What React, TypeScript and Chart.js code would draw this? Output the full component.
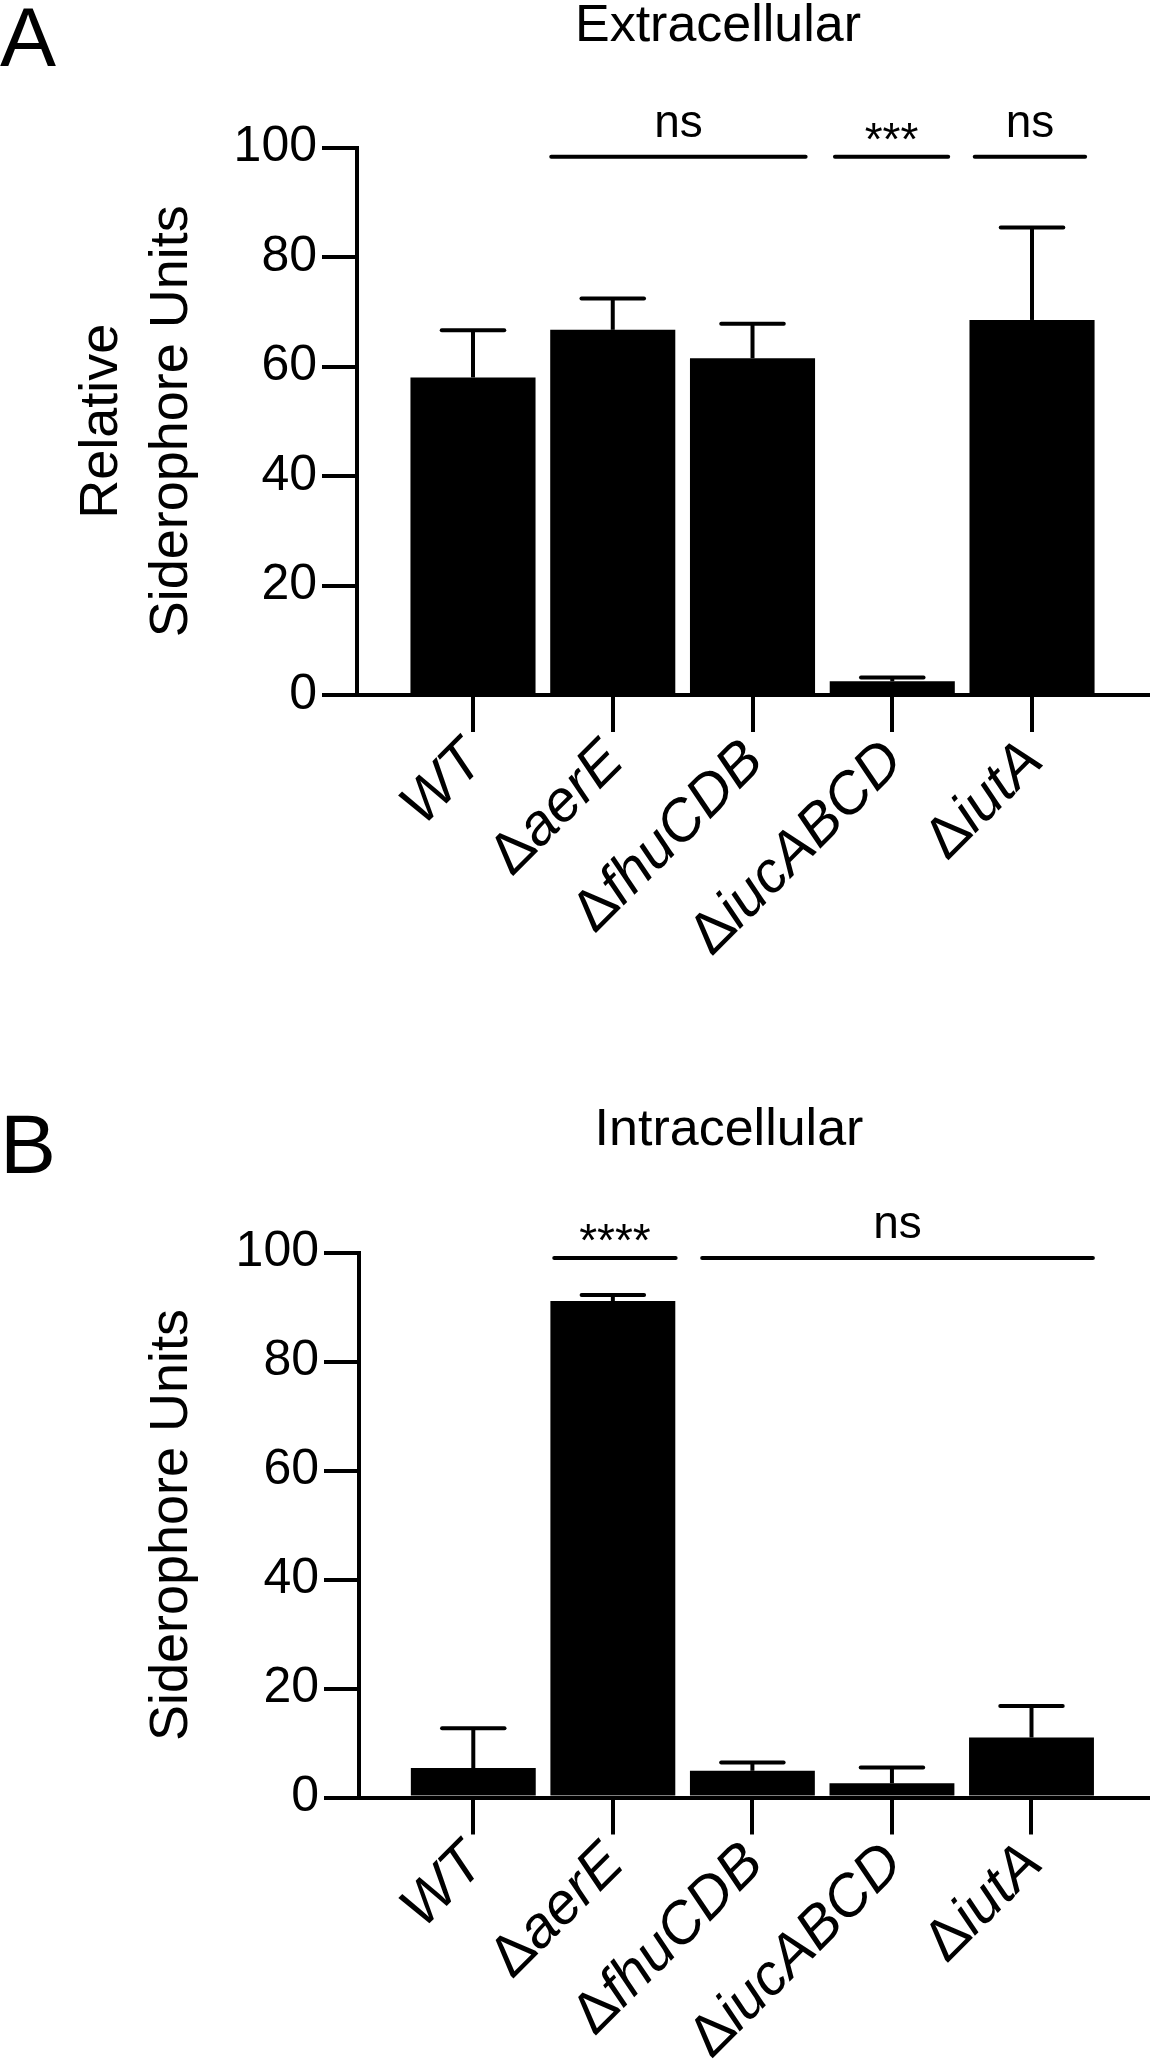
import React, { useEffect, useRef } from 'react';
import { Chart, registerables } from 'chart.js';

Chart.register(...registerables);

// ---------- data ----------
const categories = ['WT', 'ΔaerE', 'ΔfhuCDB', 'ΔiucABCD', 'ΔiutA'];
const categoryPositions = [0, 1, 2, 3, 4];
const yTicks = [0, 20, 40, 60, 80, 100];

const extracellularMeans = [58.0, 66.7, 61.5, 2.5, 68.5];
const extracellularErrors = [8.6, 5.7, 6.3, 0.7, 16.9];
const extracellularSignificance = [
  { from: 0.56, to: 2.38, value: 98.3, label: 'ns' },
  { from: 2.59, to: 3.4, value: 98.3, label: '***' },
  { from: 3.59, to: 4.38, value: 98.3, label: 'ns' },
];

const intracellularMeans = [5.4, 91.1, 4.9, 2.6, 11.0];
const intracellularErrors = [7.3, 1.1, 1.5, 2.9, 5.8];
const intracellularSignificance = [
  { from: 0.58, to: 1.45, value: 99.0, label: '****' },
  { from: 1.64, to: 4.44, value: 99.0, label: 'ns' },
];

const FONT = '"Liberation Sans", Arial, Helvetica, sans-serif';
Chart.defaults.font.family = FONT;
Chart.defaults.color = '#000';

type Panel = {
  letter: string;
  letterBaseline: number;
  title: string;
  titleX: number;
  titleBaseline: number;
  yTitle: string | string[];
  yTitlePad: number;
  means: number[];
  errors: number[];
  significance: { from: number; to: number; value: number; label: string }[];
  width: number;
  height: number;
  padTop: number;
  yWidth: number;
  xHeight: number;
  xMin: number;
  xMax: number;
};

const LABEL_SIZE = 58;
const LABEL_ROTATION = 45;

const decorPlugin = {
  id: 'decor',
  afterDatasetsDraw(chart: any, _args: any, opts: any) {
    const ctx = chart.ctx;
    const meta = chart.getDatasetMeta(0);
    const yScale = chart.scales.y;
    ctx.save();
    ctx.strokeStyle = '#000';
    ctx.lineWidth = 4;
    meta.data.forEach((bar: any, i: number) => {
      const top = yScale.getPixelForValue(opts.means[i] + opts.errors[i]);
      const half = bar.width / 4;
      ctx.lineCap = 'butt';
      ctx.beginPath();
      ctx.moveTo(bar.x, bar.y);
      ctx.lineTo(bar.x, top);
      ctx.stroke();
      ctx.lineCap = 'round';
      ctx.beginPath();
      ctx.moveTo(bar.x - half, top);
      ctx.lineTo(bar.x + half, top);
      ctx.stroke();
    });
    ctx.restore();
  },
  afterDraw(chart: any, _args: any, opts: any) {
    const ctx = chart.ctx;
    const xScale = chart.scales.x;
    const yScale = chart.scales.y;
    ctx.save();
    ctx.fillStyle = '#000';
    ctx.textBaseline = 'alphabetic';
    ctx.textAlign = 'left';
    ctx.font = `84px ${FONT}`;
    ctx.fillText(opts.letter, 0, opts.letterBaseline);
    ctx.textAlign = 'center';
    ctx.font = `52px ${FONT}`;
    ctx.fillText(opts.title, opts.titleX, opts.titleBaseline);

    // significance brackets
    ctx.strokeStyle = '#000';
    ctx.lineWidth = 4;
    ctx.lineCap = 'round';
    ctx.font = `46px ${FONT}`;
    opts.significance.forEach((s: any) => {
      const x1 = xScale.getPixelForValue(s.from);
      const x2 = xScale.getPixelForValue(s.to);
      const y = yScale.getPixelForValue(s.value);
      ctx.beginPath();
      ctx.moveTo(x1, y);
      ctx.lineTo(x2, y);
      ctx.stroke();
      const isStars = s.label.indexOf('*') >= 0;
      ctx.fillText(s.label, (x1 + x2) / 2, y - (isStars ? 2 : 20));
    });

    // category labels: upright Δ + italic gene name, rotated
    const axisY = chart.chartArea.bottom;
    const upright = `${LABEL_SIZE}px ${FONT}`;
    const italic = `italic ${LABEL_SIZE}px ${FONT}`;
    xScale.ticks.forEach((t: any) => {
      const label = categories[t.value];
      const hasDelta = label.charAt(0) === 'Δ';
      const prefix = hasDelta ? 'Δ' : '';
      const name = hasDelta ? label.slice(1) : label;
      ctx.font = upright;
      const wPrefix = prefix ? ctx.measureText(prefix).width : 0;
      ctx.font = italic;
      const wName = ctx.measureText(name).width;
      const total = wPrefix + wName;
      ctx.save();
      ctx.translate(xScale.getPixelForValue(t.value) + 2, axisY + 57);
      ctx.rotate((-LABEL_ROTATION * Math.PI) / 180);
      ctx.textAlign = 'left';
      ctx.textBaseline = 'middle';
      if (prefix) {
        ctx.font = upright;
        ctx.fillText(prefix, -total, 0);
      }
      ctx.font = italic;
      ctx.fillText(name, -wName, 0);
      ctx.restore();
    });
    ctx.restore();
  },
};

function makeConfig(p: Panel): any {
  return {
    type: 'bar',
    data: {
      datasets: [
        {
          data: categoryPositions.map((x, i) => ({ x, y: p.means[i] })),
          backgroundColor: '#000',
          borderWidth: 0,
          barPercentage: 0.895,
          categoryPercentage: 1,
        },
      ],
    },
    plugins: [decorPlugin],
    options: {
      responsive: false,
      animation: false,
      devicePixelRatio: 1,
      layout: { padding: { top: p.padTop, left: 0, right: 1, bottom: 0 } },
      plugins: {
        legend: { display: false },
        tooltip: { enabled: false },
        title: { display: false },
        decor: {
          letter: p.letter,
          letterBaseline: p.letterBaseline,
          title: p.title,
          titleX: p.titleX,
          titleBaseline: p.titleBaseline,
          significance: p.significance,
          means: p.means,
          errors: p.errors,
        },
      },
      scales: {
        x: {
          type: 'linear',
          offset: false,
          min: p.xMin,
          max: p.xMax,
          afterBuildTicks: (s: any) => {
            s.ticks = categoryPositions.map((v) => ({ value: v }));
          },
          afterFit: (s: any) => {
            s.height = p.xHeight;
          },
          grid: {
            offset: false,
            drawOnChartArea: false,
            drawTicks: true,
            tickLength: 37,
            lineWidth: 4,
            color: '#000',
          },
          border: { display: true, color: '#000', width: 4 },
          ticks: {
            display: false,
            autoSkip: false,
            callback: (v: number) => categories[v],
          },
        },
        y: {
          min: 0,
          max: 100,
          afterBuildTicks: (s: any) => {
            s.ticks = yTicks.map((v) => ({ value: v }));
          },
          afterFit: (s: any) => {
            s.width = p.yWidth;
          },
          title: {
            display: true,
            text: p.yTitle,
            color: '#000',
            font: { size: 54, lineHeight: 1.3, family: FONT },
            padding: { top: p.yTitlePad, bottom: 0 },
          },
          grid: {
            drawOnChartArea: false,
            drawTicks: true,
            tickLength: 35,
            lineWidth: 4,
            color: '#000',
          },
          border: { display: true, color: '#000', width: 4 },
          ticks: { padding: 5, color: '#000', font: { size: 50, family: FONT } },
        },
      },
    },
  };
}

const panelA: Panel = {
  letter: 'A',
  letterBaseline: 66,
  title: 'Extracellular',
  titleX: 718,
  titleBaseline: 41,
  yTitle: ['Relative', 'Siderophore Units'],
  yTitlePad: 67,
  means: extracellularMeans,
  errors: extracellularErrors,
  significance: extracellularSignificance,
  width: 1150,
  height: 1040,
  padTop: 147.5,
  yWidth: 357,
  xHeight: 345,
  xMin: -0.83,
  xMax: 4.837,
};

const panelB: Panel = {
  letter: 'B',
  letterBaseline: 133,
  title: 'Intracellular',
  titleX: 729,
  titleBaseline: 105,
  yTitle: 'Siderophore Units',
  yTitlePad: 137,
  means: intracellularMeans,
  errors: intracellularErrors,
  significance: intracellularSignificance,
  width: 1150,
  height: 1022,
  padTop: 212.5,
  yWidth: 359,
  xHeight: 264.5,
  xMin: -0.819,
  xMax: 4.842,
};

function PanelChart({ panel, top }: { panel: Panel; top: number }) {
  const ref = useRef<HTMLCanvasElement | null>(null);
  useEffect(() => {
    if (!ref.current) return;
    const chart = new Chart(ref.current, makeConfig(panel));
    return () => chart.destroy();
  }, [panel]);
  return (
    <canvas
      ref={ref}
      width={panel.width}
      height={panel.height}
      style={{ position: 'absolute', left: 0, top, width: panel.width, height: panel.height }}
    />
  );
}

export default function App() {
  return (
    <div
      style={{
        position: 'absolute',
        left: 0,
        top: 0,
        width: 1150,
        height: 2062,
        background: '#fff',
        overflow: 'hidden',
      }}
    >
      <PanelChart panel={panelA} top={0} />
      <PanelChart panel={panelB} top={1040} />
    </div>
  );
}
